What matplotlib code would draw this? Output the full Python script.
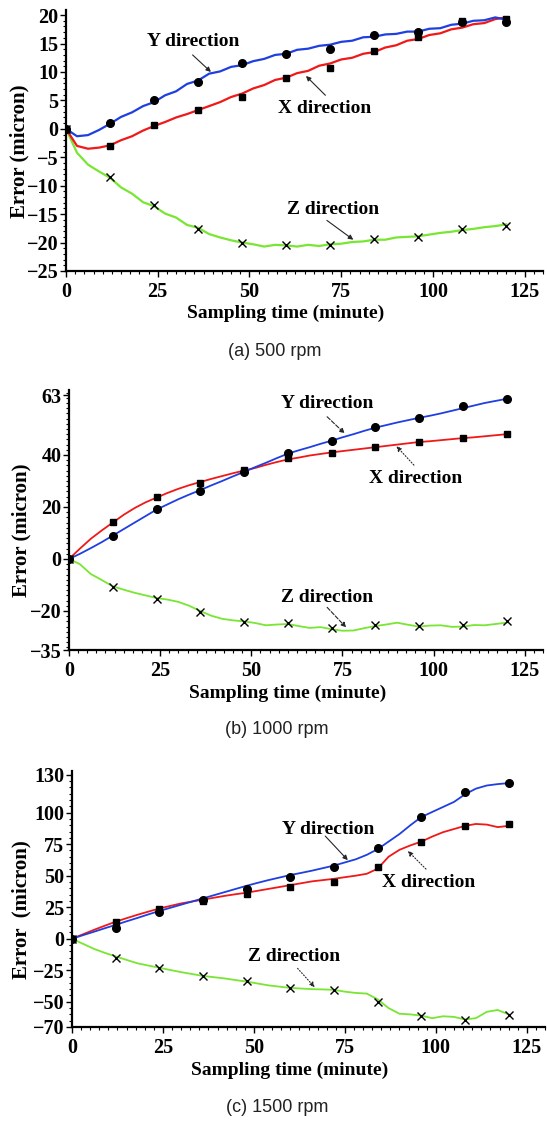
import numpy as np
import matplotlib
matplotlib.use("Agg")
import matplotlib.pyplot as plt
from matplotlib.ticker import MultipleLocator, FixedLocator

# ---------------- data ----------------
t_line = np.arange(0, 121, 3)          # minutes, curve samples
t_mark = np.arange(0, 121, 12)         # minutes, marker samples

# (a) 500 rpm
a_y_line = [0, -1.3, -1.1, -0.2, 0.9, 2.1, 2.9, 4.0, 4.7, 5.9, 6.6, 7.9, 8.5, 9.7, 10.1,
            10.9, 11.2, 11.9, 12.3, 13.0, 13.2, 13.9, 14.1, 14.6, 14.8, 15.3, 15.5, 16.1,
            16.2, 16.6, 16.7, 17.1, 17.1, 17.6, 17.7, 18.3, 18.5, 19.0, 19.1, 19.6, 19.2]
a_x_line = [0, -3.0, -3.5, -3.3, -2.9, -2.0, -1.3, -0.3, 0.5, 1.2, 2.0, 2.6, 3.3, 4.0, 4.7,
            5.6, 6.2, 7.1, 7.7, 8.6, 9.0, 9.8, 10.2, 11.1, 11.5, 12.2, 12.5, 13.2, 13.5,
            14.3, 14.7, 15.5, 15.8, 16.5, 16.8, 17.5, 17.8, 18.4, 18.6, 19.3, 19.6]
a_z_line = [0, -4.2, -6.3, -7.5, -8.6, -10.3, -11.4, -12.9, -13.6, -14.9, -15.6, -16.9,
            -17.4, -18.5, -19.1, -19.6, -20.0, -20.3, -20.7, -20.4, -20.5, -20.7, -20.4,
            -20.6, -20.3, -20.2, -19.9, -19.8, -19.5, -19.5, -19.1, -19.0, -18.9, -18.6,
            -18.3, -18.1, -17.8, -17.6, -17.3, -17.1, -16.8]
a_y_mark = [0, 1.1, 5.1, 8.3, 11.6, 13.2, 14.0, 16.5, 17.1, 18.8, 18.8]
a_x_mark = [0, -3.0, 0.6, 3.3, 5.6, 9.0, 10.7, 13.7, 16.1, 18.9, 19.3]
a_z_mark = [0, -8.5, -13.4, -17.6, -20.0, -20.4, -20.4, -19.4, -19.1, -17.7, -17.0]

# (b) 1000 rpm
b_y_line = [0, 2.0, 4.2, 6.5, 9.0, 11.5, 14.0, 16.5, 19.0, 21.0, 23.0, 24.8, 26.5, 28.3,
            30.0, 31.8, 33.5, 35.3, 37.0, 38.8, 40.5, 41.8, 43.0, 44.3, 45.5, 46.8, 48.0,
            49.3, 50.5, 51.5, 52.5, 53.4, 54.3, 55.1, 56.0, 57.0, 58.0, 59.0, 60.0, 60.8, 61.6]
b_x_line = [0, 4.0, 7.8, 11.0, 14.0, 17.0, 19.6, 21.8, 23.6, 25.4, 27.0, 28.4, 29.6, 30.8,
            31.9, 33.0, 34.0, 35.0, 36.2, 37.3, 38.3, 39.0, 39.8, 40.4, 41.0, 41.5, 42.0,
            42.5, 43.0, 43.5, 44.0, 44.5, 45.0, 45.3, 45.7, 46.1, 46.5, 46.8, 47.2, 47.6, 48.0]
b_z_line = [0, -2.0, -5.8, -8.1, -10.5, -11.8, -13.0, -14.0, -15.0, -15.6, -16.5, -18.0,
            -20.0, -21.8, -23.0, -23.6, -24.0, -24.6, -25.5, -25.2, -25.0, -25.8, -26.5,
            -26.2, -27.0, -27.6, -27.5, -26.6, -25.8, -25.2, -24.5, -25.3, -26.0, -25.6,
            -25.5, -26.1, -26.0, -25.4, -25.5, -25.0, -24.5]
b_y_mark = [0, 8.8, 19.1, 26.2, 33.5, 40.6, 45.4, 50.6, 54.3, 58.8, 61.7]
b_x_mark = [0, 14.3, 23.7, 29.4, 34.2, 38.9, 40.6, 43.1, 44.9, 46.7, 47.9]
b_z_mark = [0, -10.9, -15.3, -20.5, -24.1, -24.8, -26.7, -25.4, -25.6, -25.4, -24.0]

# (c) 1500 rpm
c_y_line = [0, 2.8, 5.5, 8.3, 11.0, 13.8, 16.5, 19.3, 22.0, 24.5, 27.0, 29.5, 32.0, 34.5,
            37.0, 39.5, 42.0, 44.3, 46.5, 48.5, 50.5, 52.2, 54.0, 56.0, 58.0, 60.5, 63.0,
            66.5, 71.0, 77.0, 83.0, 90.0, 96.5, 100.5, 104.5, 108.5, 114.5, 119.0, 121.5,
            122.6, 123.4]
c_x_line = [0, 3.5, 7.0, 10.3, 13.5, 16.3, 19.0, 21.5, 24.0, 26.0, 28.0, 29.5, 31.0, 32.5,
            34.0, 35.3, 36.5, 38.0, 39.5, 41.0, 42.5, 44.0, 45.5, 46.5, 47.5, 48.8, 50.0,
            51.5, 55.5, 65.0, 70.5, 74.0, 77.0, 81.0, 84.5, 87.0, 89.5, 91.0, 90.5, 88.5, 89.5]
c_z_line = [0, -4, -8, -11.2, -14, -16.8, -19.5, -21.3, -23, -24.8, -26.5, -28, -29.5,
            -30.5, -31.5, -32.8, -34, -35.5, -37, -38, -39, -39.5, -40, -40.2, -40.5, -42,
            -43, -43.5, -48, -55, -59.5, -60, -61, -63, -61.5, -62, -64, -63, -58, -56.5, -60]
c_y_mark = [0, 8.7, 21.1, 31.1, 39.4, 49.2, 57.0, 71.7, 96.9, 116.1, 123.4]
c_x_mark = [0, 13.2, 23.7, 29.7, 35.5, 41.3, 45.0, 56.5, 77.0, 89.3, 90.6]
c_z_mark = [0, -14.9, -23.5, -29.6, -33.5, -39.3, -40.6, -50.3, -61.1, -64.8, -60.3]

captions = ["(a) 500 rpm", "(b) 1000 rpm", "(c) 1500 rpm"]
yticks_a = [-25, -20, -15, -10, -5, 0, 5, 10, 15, 20]
yticks_b = [-35, -20, 0, 20, 40, 63]
yticks_c = [-70, -50, -25, 0, 25, 50, 75, 100, 130]
xticks = [0, 25, 50, 75, 100, 125]
ylabels = ["Error (micron)", "Error (micron)", "Error  (micron)"]

# ---------------- style ----------------
BLUE = "#1f3fe0"
RED = "#f01818"
GREEN = "#78e632"
SERIF = "Liberation Serif"
SANS = "Liberation Sans"

fig = plt.figure(figsize=(5.47, 11.22), dpi=100)
W, H = 547.0, 1122.0


def px_axes(left, top, right, bottom):
    return fig.add_axes([left / W, 1 - bottom / H, (right - left) / W, (bottom - top) / H])


panels = [
    dict(box=(66, 10, 543, 271), ylim=(-25, 20.9), yticks=yticks_a, yminor=1,
         lines=(a_y_line, a_x_line, a_z_line), marks=(a_y_mark, a_x_mark, a_z_mark),
         notes=[("Y direction", (34.6, 15.3), (34.5, 13.0), (39.5, 10.0), "-"),
                ("X direction", (70.6, 3.6), (70.7, 5.9), (65.4, 9.3), "-"),
                ("Z direction", (72.9, -14.1), (71.1, -16.1), (78.3, -19.5), "-")],
         xlab=(286, 313), ylab=(19, 151), cap=(275, 352)),
    dict(box=(69, 390, 543, 650), ylim=(-35, 65), yticks=yticks_b, yminor=2,
         lines=(b_y_line, b_x_line, b_z_line), marks=(b_y_mark, b_x_mark, b_z_mark),
         notes=[("Y direction", (70.9, 59.9), (70.8, 54.7), (75.6, 48.3), "--"),
                ("X direction", (95.1, 31.1), (94.6, 36.1), (89.8, 43.4), ":"),
                ("Z direction", (70.9, -14.7), (70.8, -18.6), (76.0, -26.3), "--")],
         xlab=(288, 693), ylab=(21, 530), cap=(277, 730)),
    dict(box=(72, 771, 545, 1027), ylim=(-70, 133), yticks=yticks_c, yminor=5,
         lines=(c_y_line, c_x_line, c_z_line), marks=(c_y_mark, c_x_mark, c_z_mark),
         notes=[("Y direction", (70.5, 86.9), (69.6, 81.4), (75.8, 62.3), "-"),
                ("X direction", (98.0, 44.6), (97.3, 55.2), (92.3, 69.6), ":"),
                ("Z direction", (61.0, -14.1), (62.0, -23.5), (66.7, -38.5), ":")],
         xlab=(290, 1070), ylab=(21, 910), cap=(277, 1108)),
]

for i, p in enumerate(panels):
    ax = px_axes(*p["box"])
    ly, lx, lz = p["lines"]
    my, mx, mz = p["marks"]
    lw = 1.6 if i == 0 else 1.3
    ax.plot(t_line, lz, color=GREEN, lw=lw, zorder=2)
    ax.plot(t_line, lx, color=RED, lw=lw, zorder=2)
    ax.plot(t_line, ly, color=BLUE, lw=lw, zorder=2)
    ax.plot(t_mark, mz, ls="none", marker="x", ms=5.5, mew=1.0, color="black", zorder=3)
    ax.plot(t_mark, mx, ls="none", marker="s", ms=5.0, color="black", zorder=3)
    ax.plot(t_mark, my, ls="none", marker="o", ms=5.5, color="black", zorder=3)

    ax.set_xlim(0, 130)
    ax.set_ylim(*p["ylim"])
    ax.xaxis.set_major_locator(FixedLocator(xticks))
    ax.xaxis.set_minor_locator(MultipleLocator(2.5))
    ax.yaxis.set_major_locator(FixedLocator(p["yticks"]))
    ax.yaxis.set_minor_locator(MultipleLocator(p["yminor"]))

    for s in ("top", "right"):
        ax.spines[s].set_visible(False)
    for s in ("left", "bottom"):
        ax.spines[s].set_linewidth(1.6)
    ax.tick_params(which="major", direction="out", length=4, width=1.0, pad=1.5)
    ax.tick_params(axis="x", which="major", pad=4)
    ax.tick_params(which="minor", direction="out", length=2, width=0.8)
    for lab in ax.get_xticklabels() + ax.get_yticklabels():
        lab.set_fontfamily(SERIF)
        lab.set_fontweight("bold")
        lab.set_fontsize(14.5)

    for text, xy_text, xy_tail, xy_tip, ls in p["notes"]:
        ax.text(*xy_text, text, ha="center", va="center", fontfamily=SERIF,
                fontweight="bold", fontsize=14)
        ax.annotate("", xy=xy_tip, xytext=xy_tail,
                    arrowprops=dict(arrowstyle="-|>", color="0.15", lw=0.8,
                                    linestyle=ls, mutation_scale=7, shrinkA=0, shrinkB=0))

    fig.text(p["xlab"][0] / W, 1 - p["xlab"][1] / H, "Sampling time (minute)",
             ha="center", va="center", fontfamily=SERIF, fontweight="bold", fontsize=14)
    fig.text(p["ylab"][0] / W, 1 - p["ylab"][1] / H, ylabels[i], ha="center",
             va="center", rotation=90, fontfamily=SERIF, fontweight="bold", fontsize=15)
    fig.text(p["cap"][0] / W, 1 - p["cap"][1] / H, captions[i], ha="center",
             va="center", fontfamily=SANS, fontsize=13, color="#222222")

fig.savefig("out.png", dpi=100, facecolor="white")
